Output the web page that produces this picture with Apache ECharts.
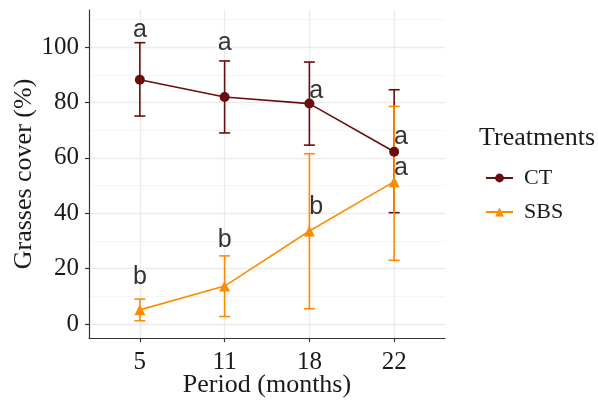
<!DOCTYPE html>
<html>
<head>
<meta charset="utf-8">
<script src="https://cdn.jsdelivr.net/npm/echarts@6/dist/echarts.min.js"></script>
<style>html,body{margin:0;padding:0;background:#fff}#c{width:598px;height:400px}</style>
</head>
<body>
<div id="c"></div>
<script>
// ---- data ----
var periods = ['5', '11', '18', '22'];
var yTicks = [0, 20, 40, 60, 80, 100];
var yMinorTicks = [10, 30, 50, 70, 90, 110];
var ctMean = [88.2, 82.0, 79.6, 62.2];
var ctLow  = [75.1, 69.0, 64.6, 40.2];
var ctHigh = [101.6, 95.0, 94.6, 84.6];
var sbsMean = [5.1, 13.7, 33.6, 51.4];
var sbsLow  = [1.2, 2.7, 5.5, 23.0];
var sbsHigh = [9.0, 24.6, 61.5, 78.6];
var ctLetters = ['a', 'a', 'a', 'a'];
var ctLetterY = [106.3, 101.5, 84.0, 67.5];
var sbsLetters = ['b', 'b', 'b', 'a'];
var sbsLetterY = [16.8, 30.3, 42.2, 56.2];
var letterNudge = [0, 0, 0.08, 0.08];

var CT_COLOR = '#6B0D0D';
var SBS_COLOR = '#FF8C00';
var SERIF = '"Liberation Serif", "Times New Roman", serif';
var SANS = '"Liberation Sans", Arial, sans-serif';
var Y_MIN = -5.06, Y_MAX = 113.4;

function xy(vals) { return vals.map(function (v, i) { return [i + 1, v]; }); }
function err(lo, hi) { return lo.map(function (v, i) { return [i + 1, v, hi[i]]; }); }
function letters(ls, ys) { return ls.map(function (l, i) { return {value: [i + 1 + letterNudge[i], ys[i]], txt: l}; }); }

function errRender(color) {
  return function (params, api) {
    var x = api.value(0);
    var p1 = api.coord([x, api.value(1)]);
    var p2 = api.coord([x, api.value(2)]);
    var hw = 5.5;
    var st = {stroke: color, lineWidth: 1.6};
    return {type: 'group', children: [
      {type: 'line', shape: {x1: p1[0], y1: p1[1], x2: p2[0], y2: p2[1]}, style: st},
      {type: 'line', shape: {x1: p1[0] - hw, y1: p1[1], x2: p1[0] + hw, y2: p1[1]}, style: st},
      {type: 'line', shape: {x1: p2[0] - hw, y1: p2[1], x2: p2[0] + hw, y2: p2[1]}, style: st}
    ]};
  };
}

var chart = echarts.init(document.getElementById('c'), null, {renderer: 'canvas'});
chart.setOption({
  animation: false,
  backgroundColor: '#fff',
  grid: {left: 89, right: 153, top: 10, bottom: 62, containLabel: false, outerBoundsMode: 'none'},
  title: {text: 'Treatments', left: 474, top: 120,
    textStyle: {fontFamily: SERIF, fontSize: 26, fontWeight: 'normal', color: '#1a1a1a'}},
  legend: {
    orient: 'vertical', left: 480, top: 162, itemGap: 12,
    itemWidth: 27, itemHeight: 11,
    data: ['CT', 'SBS'],
    textStyle: {fontFamily: SERIF, fontSize: 22, color: '#1a1a1a', padding: [0, 0, 0, 6]}
  },
  xAxis: {
    type: 'value', min: 0.4, max: 4.6,
    name: 'Period (months)', nameLocation: 'middle', nameGap: 34, nameMoveOverlap: false,
    nameTextStyle: {fontFamily: SERIF, fontSize: 26, color: '#1a1a1a'},
    axisLine: {show: true, onZero: false, lineStyle: {color: '#333', width: 1.2}},
    axisTick: {show: true, length: 4, customValues: [1, 2, 3, 4], lineStyle: {color: '#333', width: 1.2}},
    axisLabel: {customValues: [1, 2, 3, 4], margin: 12,
      formatter: function (v) { return periods[Math.round(v) - 1]; },
      fontFamily: SERIF, fontSize: 25, color: '#1a1a1a'},
    splitLine: {show: true, lineStyle: {color: '#ebebeb', width: 1.3}}
  },
  yAxis: [{
    type: 'value', min: Y_MIN, max: Y_MAX,
    name: 'Grasses cover (%)', nameLocation: 'middle', nameGap: 52, nameMoveOverlap: false,
    nameTextStyle: {fontFamily: SERIF, fontSize: 26, color: '#1a1a1a'},
    axisLine: {show: true, onZero: false, lineStyle: {color: '#333', width: 1.2}},
    axisTick: {show: true, length: 4, customValues: yTicks, lineStyle: {color: '#333', width: 1.2}},
    axisLabel: {customValues: yTicks, margin: 10, fontFamily: SERIF, fontSize: 25, color: '#1a1a1a'},
    splitLine: {show: true, lineStyle: {color: '#ebebeb', width: 1.3}}
  }, {
    type: 'value', min: Y_MIN, max: Y_MAX, position: 'left', z: 0,
    axisLine: {show: false}, axisLabel: {show: false, customValues: yMinorTicks},
    axisTick: {show: false, customValues: yMinorTicks},
    splitLine: {show: true, lineStyle: {color: '#f3f3f3', width: 0.8}}
  }],
  series: [
    {type: 'custom', name: 'CT_err', data: err(ctLow, ctHigh), renderItem: errRender(CT_COLOR), z: 3},
    {type: 'custom', name: 'SBS_err', data: err(sbsLow, sbsHigh), renderItem: errRender(SBS_COLOR), z: 3},
    {type: 'line', name: 'CT', data: xy(ctMean), color: CT_COLOR,
      symbol: 'circle', symbolSize: 10, lineStyle: {width: 1.6, color: CT_COLOR},
      itemStyle: {color: CT_COLOR}, z: 4},
    {type: 'line', name: 'SBS', data: xy(sbsMean), color: SBS_COLOR,
      symbol: 'triangle', symbolSize: 11, lineStyle: {width: 1.6, color: SBS_COLOR},
      itemStyle: {color: SBS_COLOR}, z: 4},
    {type: 'scatter', name: 'lettersCT', symbolSize: 0, z: 6,
      data: letters(ctLetters, ctLetterY),
      label: {show: true, position: 'inside', formatter: function (p) { return p.data.txt; },
        fontFamily: SANS, fontSize: 25, color: '#000'}},
    {type: 'scatter', name: 'lettersSBS', symbolSize: 0, z: 6,
      data: letters(sbsLetters, sbsLetterY),
      label: {show: true, position: 'inside', formatter: function (p) { return p.data.txt; },
        fontFamily: SANS, fontSize: 25, color: '#000'}}
  ]
});
</script>
</body>
</html>
